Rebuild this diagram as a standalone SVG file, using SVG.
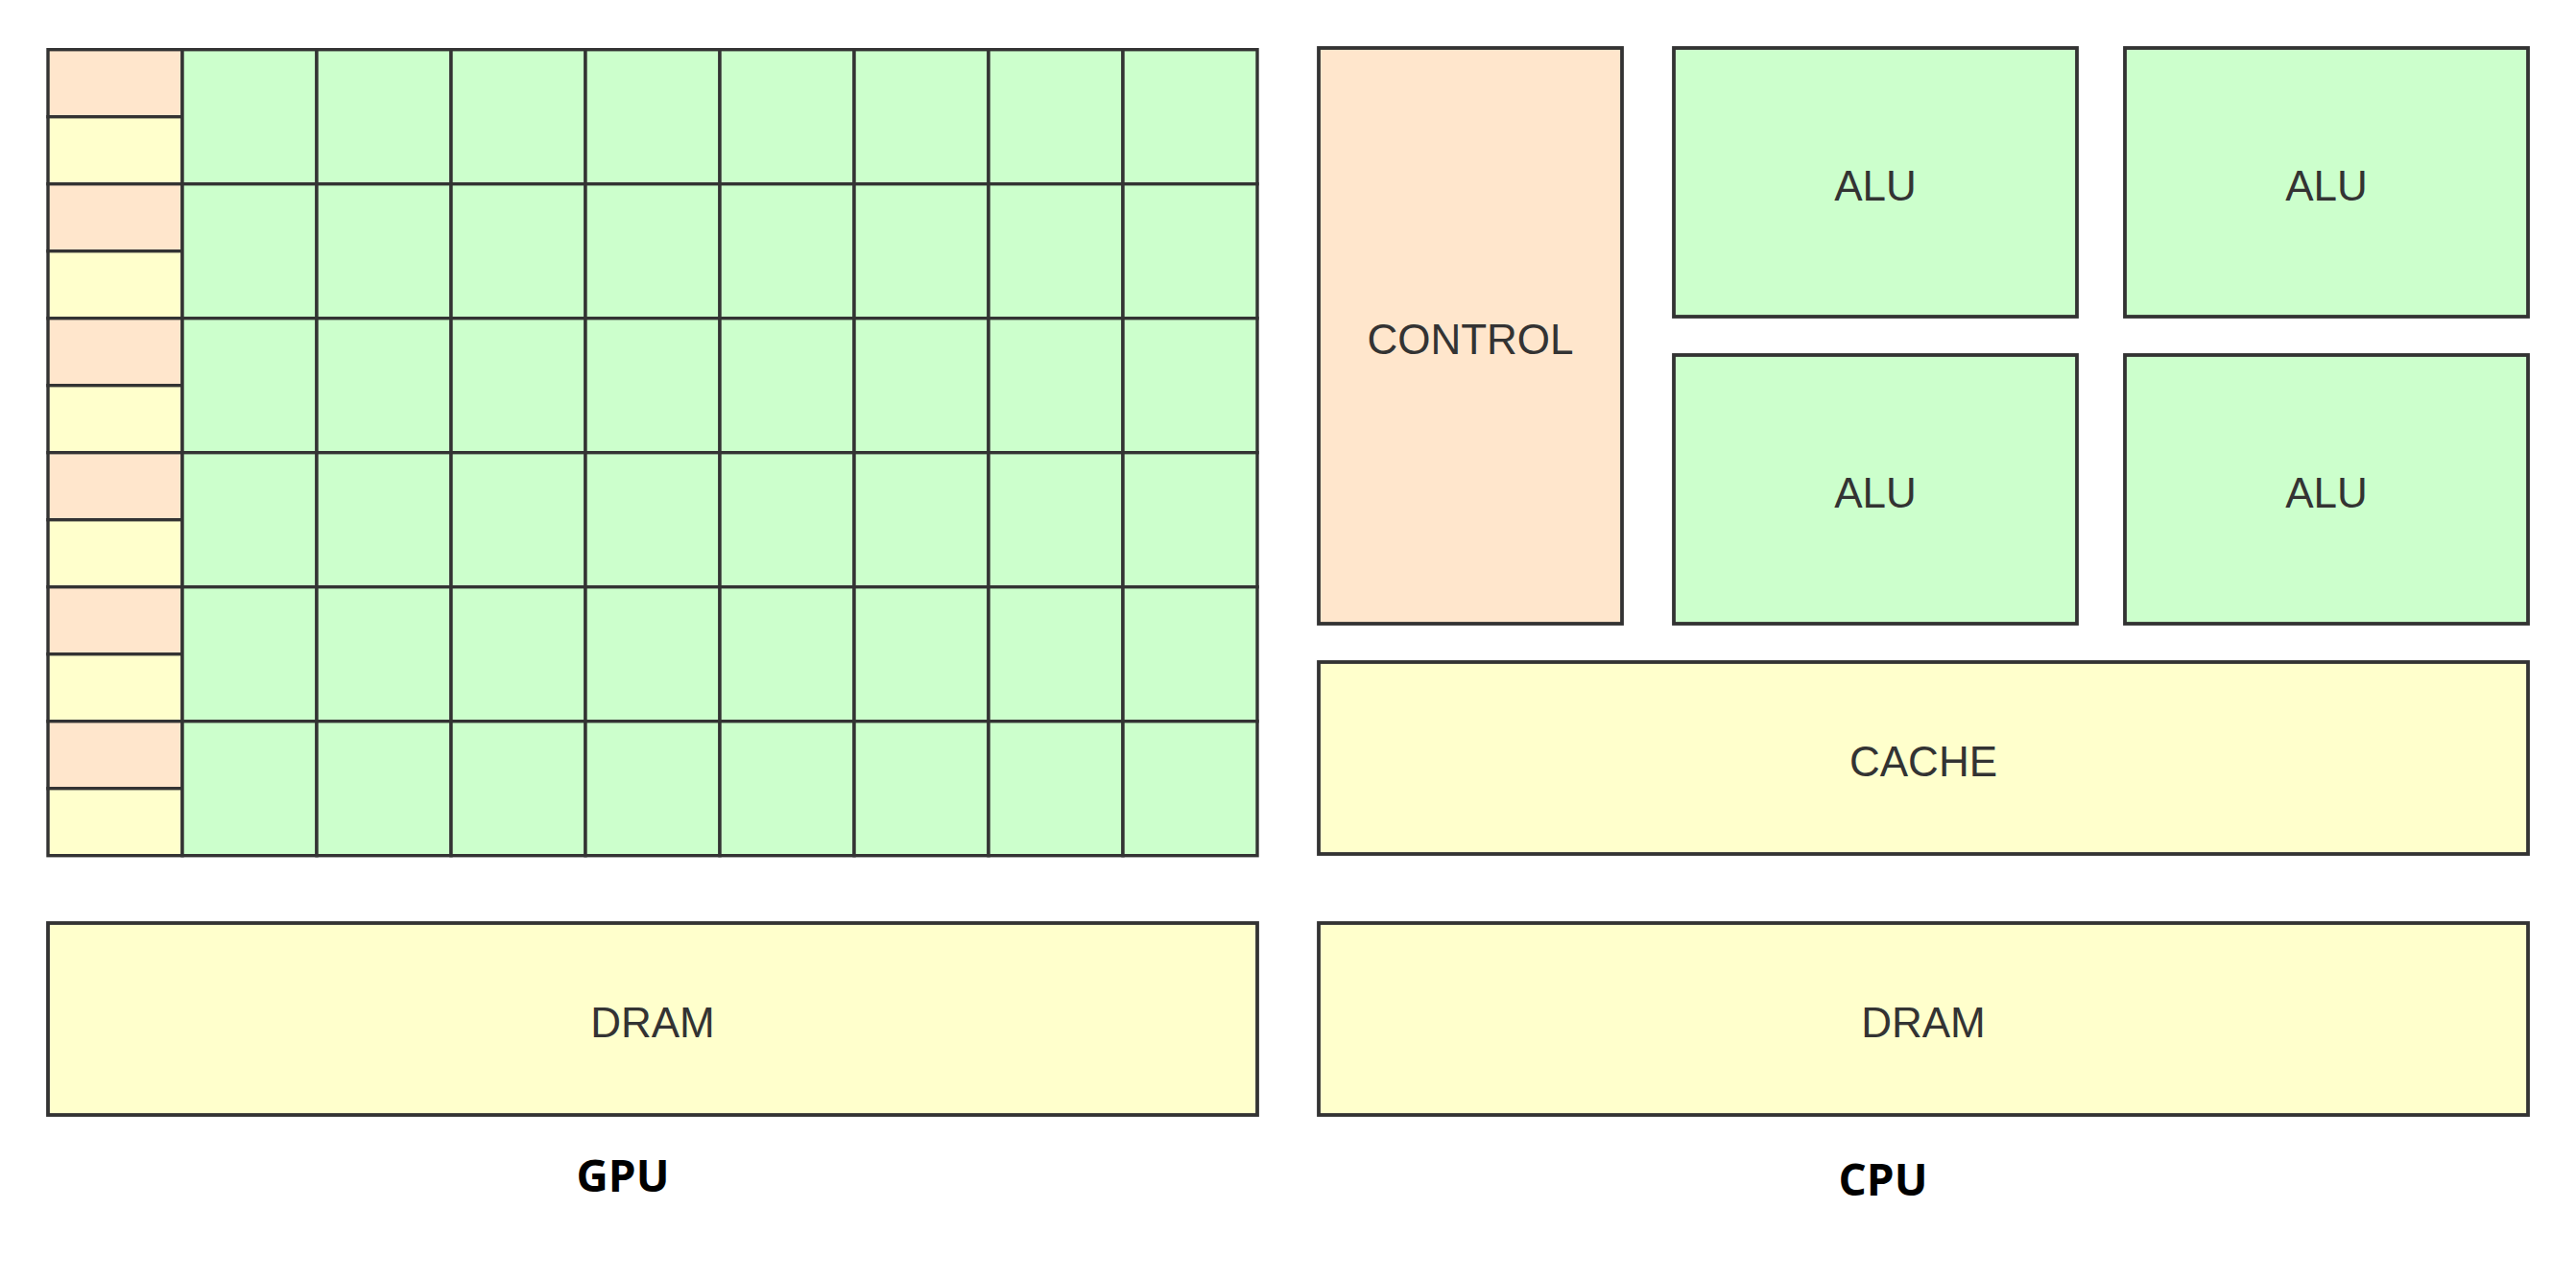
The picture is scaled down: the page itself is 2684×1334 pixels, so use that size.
<svg xmlns="http://www.w3.org/2000/svg" width="2684" height="1334" viewBox="0 0 2684 1334">
<style>
.g{fill:#CCFFCC;stroke:#333333;stroke-width:3.4}
.p{fill:#FFE6CC;stroke:#333333;stroke-width:3.4}
.y{fill:#FFFFCC;stroke:#333333;stroke-width:3.4}
.b{stroke-width:3.8}
.t{font-family:"Liberation Sans",Arial,Helvetica,sans-serif;font-size:44px;fill:#333333;text-anchor:middle}
.h{font-family:"Open Sans","Noto Sans",sans-serif;font-size:46px;font-weight:700;fill:#000000;text-anchor:middle}
</style>
<defs>
<g id="row">
<rect class="p" x="50" y="0" width="140" height="70"/>
<rect class="y" x="50" y="70" width="140" height="70"/>
<rect class="g" x="190" y="0" width="140" height="140"/>
<rect class="g" x="330" y="0" width="140" height="140"/>
<rect class="g" x="470" y="0" width="140" height="140"/>
<rect class="g" x="610" y="0" width="140" height="140"/>
<rect class="g" x="750" y="0" width="140" height="140"/>
<rect class="g" x="890" y="0" width="140" height="140"/>
<rect class="g" x="1030" y="0" width="140" height="140"/>
<rect class="g" x="1170" y="0" width="140" height="140"/>
</g>
</defs>
<rect width="2684" height="1334" fill="#ffffff"/>
<g id="gpu-grid">
<use href="#row" y="51.7"/>
<use href="#row" y="191.7"/>
<use href="#row" y="331.7"/>
<use href="#row" y="471.7"/>
<use href="#row" y="611.7"/>
<use href="#row" y="751.7"/>
</g>
<g id="gpu-dram">
<rect class="y b" x="50" y="962" width="1260" height="200"/>
<text class="t" x="680" y="1081">DRAM</text>
</g>
<g id="gpu-label">
<text class="h" x="649" y="1242">GPU</text>
</g>
<g id="cpu-control">
<rect class="p b" x="1374" y="50" width="316" height="600"/>
<text class="t" x="1532" y="369">CONTROL</text>
</g>
<g id="cpu-alu-1">
<rect class="g b" x="1744" y="50" width="420" height="280"/>
<text class="t" x="1954" y="209">ALU</text>
</g>
<g id="cpu-alu-2">
<rect class="g b" x="2214" y="50" width="420" height="280"/>
<text class="t" x="2424" y="209">ALU</text>
</g>
<g id="cpu-alu-3">
<rect class="g b" x="1744" y="370" width="420" height="280"/>
<text class="t" x="1954" y="529">ALU</text>
</g>
<g id="cpu-alu-4">
<rect class="g b" x="2214" y="370" width="420" height="280"/>
<text class="t" x="2424" y="529">ALU</text>
</g>
<g id="cpu-cache">
<rect class="y b" x="1374" y="690" width="1260" height="200"/>
<text class="t" x="2004" y="809">CACHE</text>
</g>
<g id="cpu-dram">
<rect class="y b" x="1374" y="962" width="1260" height="200"/>
<text class="t" x="2004" y="1081">DRAM</text>
</g>
<g id="cpu-label">
<text class="h" x="1962" y="1246">CPU</text>
</g>
<g id="connectors"></g>
</svg>
